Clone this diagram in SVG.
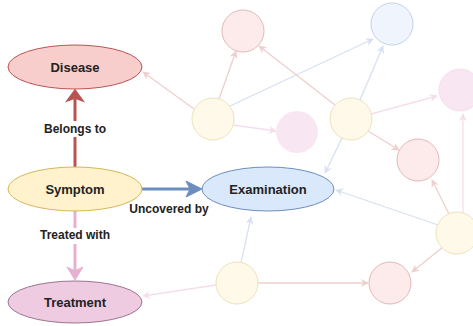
<svg xmlns="http://www.w3.org/2000/svg" width="473" height="326" viewBox="0 0 473 326">
<style>
text{font-family:"Liberation Sans",Arial,sans-serif;font-weight:bold;fill:#222;text-anchor:middle}
.n{font-size:13px}
.l{font-size:12px}
.fr{fill:#f8cecc;stroke:#b85450}
.fy{fill:#fff2cc;stroke:#d6b656}
.fb{fill:#dae8fc;stroke:#6c8ebf}
.fp{fill:#efcbe2;stroke:#9a7490}
.fpk{fill:#efc4df;stroke:#e6b0d0}
.bg{opacity:0.4}
.e{fill:none;stroke-width:1.3}
.er{stroke:#d28c82}
.eb{stroke:#9fb5de}
.ep{stroke:#e8afd0}
</style>
<defs>
<marker id="ar" viewBox="0 0 10 10" refX="9" refY="5" markerWidth="8" markerHeight="8" markerUnits="userSpaceOnUse" orient="auto"><path d="M0,0 L10,5 L0,10 L3,5 Z" fill="#d28c82"/></marker>
<marker id="ab" viewBox="0 0 10 10" refX="9" refY="5" markerWidth="8" markerHeight="8" markerUnits="userSpaceOnUse" orient="auto"><path d="M0,0 L10,5 L0,10 L3,5 Z" fill="#9fb5de"/></marker>
<marker id="ap" viewBox="0 0 10 10" refX="9" refY="5" markerWidth="8" markerHeight="8" markerUnits="userSpaceOnUse" orient="auto"><path d="M0,0 L10,5 L0,10 L3,5 Z" fill="#e8afd0"/></marker>
</defs>
<g id="background-graph" class="bg">
<g id="connectors-bg">
<line class="e er" x1="194" y1="109" x2="143" y2="72" marker-end="url(#ar)"/>
<line class="e er" x1="219" y1="99" x2="236" y2="51" marker-end="url(#ar)"/>
<line class="e eb" x1="230" y1="106" x2="373" y2="39" marker-end="url(#ab)"/>
<line class="e ep" x1="233" y1="125" x2="276" y2="131" marker-end="url(#ap)"/>
<line class="e er" x1="335" y1="105" x2="259" y2="46" marker-end="url(#ar)"/>
<line class="e eb" x1="360" y1="100" x2="383" y2="46" marker-end="url(#ab)"/>
<line class="e ep" x1="371" y1="114" x2="437" y2="96" marker-end="url(#ap)"/>
<line class="e er" x1="368" y1="131" x2="399" y2="150" marker-end="url(#ar)"/>
<line class="e eb" x1="342" y1="138" x2="325" y2="173" marker-end="url(#ab)"/>
<line class="e eb" x1="438" y1="225" x2="336" y2="190" marker-end="url(#ab)"/>
<line class="e er" x1="449" y1="214" x2="432" y2="180" marker-end="url(#ar)"/>
<line class="e er" x1="443" y1="247" x2="412" y2="272" marker-end="url(#ar)"/>
<line class="e ep" x1="463" y1="213" x2="463" y2="114" marker-end="url(#ap)"/>
<line class="e eb" x1="241" y1="263" x2="251" y2="217" marker-end="url(#ab)"/>
<line class="e er" x1="258" y1="283" x2="368" y2="283" marker-end="url(#ar)"/>
<line class="e ep" x1="216" y1="285" x2="143" y2="296" marker-end="url(#ap)"/>
</g>
<g id="c-red-top"><circle class="fr" cx="243" cy="31" r="21"/></g>
<g id="c-blue-top"><circle class="fb" cx="392" cy="24" r="21"/></g>
<g id="c-pink-right"><circle class="fpk" cx="460" cy="90" r="21"/></g>
<g id="c-yellow-1"><circle class="fy" cx="213" cy="119" r="21"/></g>
<g id="c-pink-mid"><circle class="fpk" cx="297" cy="132" r="21" style="stroke:none"/></g>
<g id="c-yellow-2"><circle class="fy" cx="351" cy="119" r="21"/></g>
<g id="c-red-mid"><circle class="fr" cx="418" cy="160" r="21"/></g>
<g id="c-yellow-3"><circle class="fy" cx="457" cy="233" r="21"/></g>
<g id="c-yellow-4"><circle class="fy" cx="237" cy="283" r="21"/></g>
<g id="c-red-bottom"><circle class="fr" cx="390" cy="283" r="21"/></g>
</g>
<g id="connectors">
<line x1="75" y1="167" x2="75" y2="98" stroke="#b85450" stroke-width="3"/>
<path d="M75,90 L83,101 L75,98 L67,101 Z" fill="#b85450" stroke="#b85450" stroke-width="1.5"/>
<line x1="141" y1="189" x2="194" y2="189" stroke="#6c8ebf" stroke-width="3"/>
<path d="M202,189 L186,181 L190,189 L186,197 Z" fill="#6c8ebf" stroke="#6c8ebf" stroke-width="1"/>
<line x1="75" y1="211" x2="75" y2="272" stroke="#e6b0d0" stroke-width="3"/>
<path d="M75,280 L67,267 L75,271 L83,267 Z" fill="#e6b0d0" stroke="#e6b0d0" stroke-width="1"/>
<rect x="38" y="121" width="74" height="16" fill="#fff"/>
<text class="l" x="75" y="133">Belongs to</text>
<rect x="36" y="228" width="78" height="16" fill="#fff"/>
<text class="l" x="75" y="239">Treated with</text>
<text class="l" x="169" y="213">Uncovered by</text>
</g>
<g id="disease"><ellipse class="fr" cx="75" cy="67" rx="67" ry="22"/><text class="n" x="75" y="72">Disease</text></g>
<g id="symptom"><ellipse class="fy" cx="75" cy="189" rx="67" ry="22"/><text class="n" x="75" y="194">Symptom</text></g>
<g id="examination"><ellipse class="fb" cx="268" cy="189" rx="66" ry="22"/><text class="n" x="268" y="194">Examination</text></g>
<g id="treatment"><ellipse class="fp" cx="75" cy="302" rx="67" ry="21"/><text class="n" x="75" y="307">Treatment</text></g>
</svg>
